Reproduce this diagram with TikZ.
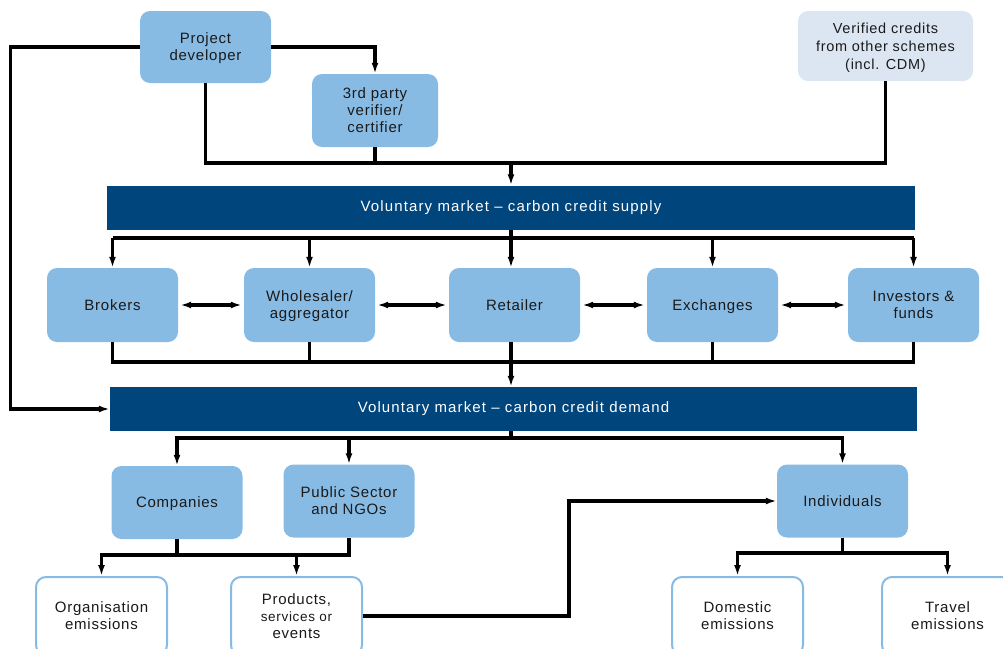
\documentclass[tikz,border=0pt]{standalone}
\usepackage{fontspec}
\setmainfont{Liberation Sans}[LetterSpace=5]
\usetikzlibrary{arrows.meta}
\definecolor{boxblue}{HTML}{88BBE4}
\definecolor{barblue}{HTML}{00457C}
\definecolor{paleblue}{HTML}{DCE6F2}
\definecolor{txt}{HTML}{1A1A1A}
\begin{document}
\begin{tikzpicture}[x=1pt,y=-1pt,
 box/.style={rectangle, rounded corners=10pt, fill=boxblue, minimum width=131pt, minimum height=73pt, align=center, inner sep=0pt, text depth=0pt, text=txt, font=\fontsize{15}{17}\selectfont},
 obox/.style={box, fill=white, draw=boxblue, line width=2pt, minimum height=78pt},
 bar/.style={rectangle, fill=barblue, text=white, minimum height=44pt, inner sep=0pt, font=\fontsize{15}{17}\selectfont\addfontfeature{LetterSpace=7.5}},
 link/.style={line width=3.2pt},
 arr/.style={link, -{Latex[length=11pt,width=7pt]}},
 darr/.style={link, {Latex[length=11pt,width=7pt]}-{Latex[length=11pt,width=7pt]}, shorten <=2pt, shorten >=2pt},
]
\useasboundingbox (0,0) rectangle (1003,648);
\clip (0,0) rectangle (1003,648);

% top
\node[box, minimum height=72pt] (pd) at (205.5,47) {Project\\developer};
\node[box, minimum width=126pt] (tp) at (375,110.5) {3rd party\\verifier/\\certifier};
\node[box, fill=paleblue, minimum width=175pt, minimum height=70pt, font=\fontsize{14.5}{18}\selectfont] (vc) at (885.5,46) {Verified credits\\from other schemes\\(incl. CDM)};

\node[bar, minimum width=808pt] (supply) at (511,207.5) {Voluntary market -- carbon credit supply};
\node[bar, minimum width=807pt] (demand) at (513.5,409) {Voluntary market -- carbon credit demand};

% market row
\node[box, minimum height=74pt] (brokers) at (112.5,305) {Brokers};
\node[box, minimum height=74pt] (whole) at (309.5,305) {Wholesaler/\\aggregator};
\node[box, minimum height=74pt] (retail) at (514.5,305) {Retailer};
\node[box, minimum height=74pt] (exch) at (712.5,305) {Exchanges};
\node[box, minimum height=74pt] (invest) at (913.5,305) {Investors \&\\funds};

% demand row
\node[box] (comp) at (177,502.5) {Companies};
\node[box] (public) at (349,501) {Public Sector\\and NGOs};
\node[box] (indiv) at (842.5,501) {Individuals};

% emissions row
\node[obox] (org) at (101.5,616) {Organisation\\emissions};
\node[obox] (prod) at (296.5,616) {Products,\\{\fontsize{13.5}{17}\selectfont services or}\\events};
\node[obox] (dom) at (737.5,616) {Domestic\\emissions};
\node[obox] (travel) at (947.5,616) {Travel\\emissions};

% junction coordinates
\coordinate (j1) at (511,163);
\coordinate (dist) at (511,238);
\coordinate (col) at (511,362);
\coordinate (dd) at (511,438);
\coordinate (cpj) at (263,555);
\coordinate (ij) at (842.5,553);
\coordinate (pk) at (569,500);

% top connectors
\draw[link] (pd.south) |- (j1);
\draw[link] (tp.south) |- (j1);
\draw[link] (vc.south) |- (j1);
\draw[arr] (j1) -- (supply.north -| j1);
\draw[arr] (pd.east) -| (tp.north);
\draw[arr] (pd.west) -| ([xshift=-99pt]demand.west) -- (demand.west);

% supply distribution
\draw[link] (brokers.north |- dist) -- (invest.north |- dist);
\draw[arr] (supply.south -| dist) -- (retail.north -| dist);
\draw[arr] (brokers.north |- dist) -- (brokers.north);
\draw[arr] (whole.north |- dist) -- (whole.north);
\draw[arr] (exch.north |- dist) -- (exch.north);
\draw[arr] (invest.north |- dist) -- (invest.north);

% lateral trade
\draw[darr] (brokers.east) -- (whole.west);
\draw[darr] (whole.east) -- (retail.west);
\draw[darr] (retail.east) -- (exch.west);
\draw[darr] (exch.east) -- (invest.west);

% collection to demand
\draw[link] (brokers.south) |- (col) -| (invest.south);
\draw[link] (whole.south) -- (whole.south |- col);
\draw[link] (exch.south) -- (exch.south |- col);
\draw[arr] (retail.south -| col) -- (demand.north -| col);

% demand distribution
\draw[link] (demand.south -| dd) -- (dd);
\draw[arr] (dd) -| (comp.north);
\draw[arr] (dd) -| (public.north);
\draw[arr] (dd) -| (indiv.north);

% companies and public sector
\draw[link] (comp.south) |- (cpj) -| (public.south);
\draw[arr] (cpj) -| (org.north);
\draw[arr] (cpj) -| (prod.north);

% products to individuals
\draw[arr] (prod.east) -- (prod.east -| pk) |- (indiv.west);

% individuals
\draw[link] (indiv.south) -- (ij);
\draw[arr] (ij) -| (dom.north);
\draw[arr] (ij) -| (travel.north);
\end{tikzpicture}
\end{document}
